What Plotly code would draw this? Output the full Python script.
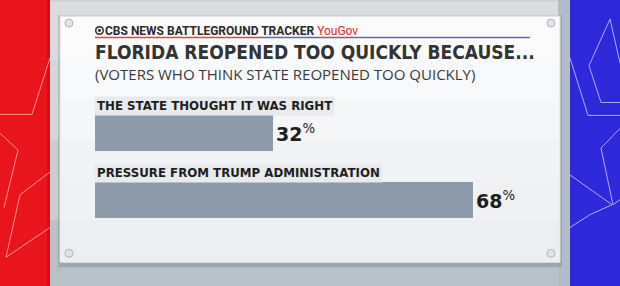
import plotly.graph_objects as go

# ---- data ----
categories = ["THE STATE THOUGHT IT WAS RIGHT", "PRESSURE FROM TRUMP ADMINISTRATION"]
values = [32, 68]
header_text = "CBS NEWS BATTLEGROUND TRACKER"
brand_text = "YouGov"
title_text = "FLORIDA REOPENED TOO QUICKLY BECAUSE..."
subtitle_text = "(VOTERS WHO THINK STATE REOPENED TOO QUICKLY)"

W, H = 620, 286
BAR_COLOR = "#8d9bab"

fig = go.Figure()
fig.add_trace(go.Bar(
    x=values, y=categories, orientation="h",
    marker=dict(color=BAR_COLOR, line=dict(width=0)),
    width=0.54,
    texttemplate="<b>%{x}</b><sup>%</sup>",
    textposition="outside",
    textfont=dict(family="DejaVu Sans", size=19, color="#1e1e1e"),
    cliponaxis=False,
    hoverinfo="skip",
))

# page-pixel -> paper helpers (decoration only)
PL, PR, PT, PB = 95.0, 540.0, 99.5, 233.5


def fx(x):
    return (x - PL) / (PR - PL)


def fy(y):
    return 1 - (y - PT) / (PB - PT)


def px_rect(x0, y0, x1, y1, layer="below", **kw):
    d = dict(type="rect", xref="paper", yref="paper",
             x0=fx(x0), x1=fx(x1), y0=fy(y0), y1=fy(y1), layer=layer)
    d.update(kw)
    return d


def px_line(x0, y0, x1, y1, color, width):
    return dict(type="line", xref="paper", yref="paper",
                x0=fx(x0), x1=fx(x1), y0=fy(y0), y1=fy(y1),
                line=dict(color=color, width=width), layer="below")


def px_path(pts, color, width):
    path = "M " + " L ".join(f"{fx(x):.4f},{fy(y):.4f}" for x, y in pts)
    return dict(type="path", xref="paper", yref="paper", path=path,
                line=dict(color=color, width=width), layer="below")


def px_circle(cx, cy, r, fill, line_color=None, lw=0, layer="below"):
    return dict(type="circle", xref="paper", yref="paper",
                x0=fx(cx - r), x1=fx(cx + r), y0=fy(cy - r), y1=fy(cy + r),
                fillcolor=fill, line=dict(color=line_color or fill, width=lw), layer=layer)


shapes = []
# background: light top to darker bottom
bands = [(0, 60, "#d9dde0"), (60, 140, "#d2d7db"), (140, 220, "#c8ced3"), (220, 286, "#b9c1c8")]
for y0, y1, c in bands:
    shapes.append(px_rect(-5, y0, 625, y1 + 1, fillcolor=c, line=dict(width=0)))
# red panel, blue panel
shapes.append(px_rect(-5, -5, 50, 295, fillcolor="#e8161c", line=dict(width=0)))
shapes.append(px_rect(47, -5, 50, 295, fillcolor="#c81216", line=dict(width=0)))
shapes.append(px_rect(570, -5, 625, 295, fillcolor="#2d29da", line=dict(width=0)))
shapes.append(px_rect(558, -5, 570, 295, fillcolor="#b4bcc8", line=dict(width=0)))

# decorative star lines on red / blue panels
RL = "rgba(255,190,190,0.75)"
BL = "rgba(205,205,255,0.8)"
shapes.append(px_path([(50, 57), (32, 114), (0, 114)], RL, 1))
shapes.append(px_path([(0, 133), (18, 150), (4, 208)], RL, 1))
shapes.append(px_path([(50, 172), (20, 195), (6, 258), (50, 228)], RL, 1))
shapes.append(px_path([(620, 62), (610, 18), (589, 65), (601, 102), (620, 102)], BL, 1))
shapes.append(px_path([(570, 57), (588, 115), (620, 115)], BL, 1))
shapes.append(px_path([(620, 128), (601, 148), (613, 205), (620, 200)], BL, 1))
shapes.append(px_path([(570, 175), (612, 205), (590, 215), (570, 228)], BL, 1))

# card shadow and card (soft gradient white -> light gray)
shapes.append(px_rect(58, 14, 562, 268, fillcolor="rgba(110,118,130,0.35)", line=dict(width=0)))
shapes.append(px_rect(60, 15, 560, 263, fillcolor="#eef0f2", line=dict(color="#e2e5e8", width=1)))
grad = ["#fbfbfc", "#f8f9fa", "#f5f6f7", "#f2f3f5", "#eff1f3", "#eceef1"]
step = (262 - 16) / len(grad)
for i, c in enumerate(grad):
    shapes.append(px_rect(61, 16 + i * step, 559, 16 + (i + 1) * step + 0.5, fillcolor=c, line=dict(width=0)))
# screws
for cx, cy in [(69, 22), (551, 22), (69, 254), (551, 254)]:
    shapes.append(px_circle(cx, cy, 4, "#e0e3e6", "#b0b5bc", 1))
# header underline
shapes.append(px_line(95, 36.5, 260, 36.5, "#d9474a", 1.5))
shapes.append(px_line(260, 36.5, 530, 36.5, "#6a6a98", 1.5))
# CBS eye
shapes.append(px_circle(99.5, 29.5, 4.5, "#2a2a2a", layer="above"))
shapes.append(px_circle(99.5, 29.5, 3.0, "#f7f7f7", layer="above"))
shapes.append(px_circle(99.5, 29.5, 1.5, "#2a2a2a", layer="above"))

annotations = []


def ann_px(x, y, text, **kw):
    d = dict(xref="paper", yref="paper", x=fx(x), y=fy(y),
             text=text, showarrow=False, xanchor="left", yanchor="middle")
    d.update(kw)
    return d


annotations.append(ann_px(103, 29.5, f"<b>{header_text}</b> <span style='color:#e02a2a'>{brand_text}</span>",
                          font=dict(family="Roboto", size=12, color="#2a2a2a")))
annotations.append(ann_px(93, 51, f"<b>{title_text}</b>",
                          font=dict(family="DejaVu Sans Condensed", size=19, color="#333333")))
annotations.append(ann_px(93, 73, subtitle_text,
                          font=dict(family="Open Sans", size=15, color="#3a3a3a")))

# category labels above each bar
for cat in categories:
    annotations.append(dict(xref="x", yref="y", x=0, y=cat, yshift=27, xshift=-1,
                            text=f"<b>{cat}</b>", showarrow=False,
                            xanchor="left", yanchor="middle",
                            font=dict(family="DejaVu Sans", size=11.8, color="#1e1e1e"),
                            bgcolor="#e8eaed", borderpad=2))

fig.update_layout(
    width=W, height=H,
    margin=dict(l=PL, r=W - PR, t=PT, b=H - PB, pad=0),
    paper_bgcolor="#c9ced3",
    plot_bgcolor="rgba(0,0,0,0)",
    showlegend=False,
    bargap=0,
    xaxis=dict(range=[0, 80], visible=False, fixedrange=True),
    yaxis=dict(range=[1.5, -0.5], visible=False, fixedrange=True, type="category"),
    shapes=shapes,
    annotations=annotations,
)

fig.write_html("out.html")
